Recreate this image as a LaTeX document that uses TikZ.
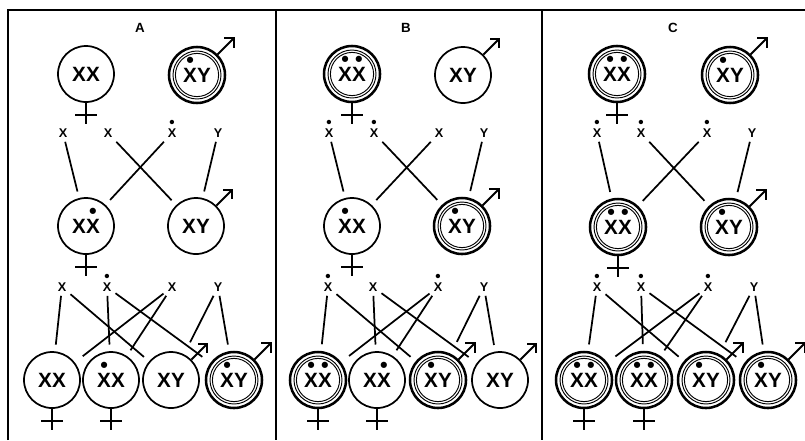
\documentclass[tikz,border=0pt]{standalone}
\usepackage{fontspec}
\setmainfont{Liberation Sans}
\usepackage{graphicx}
\usepackage{tikz}
\usetikzlibrary{arrows.meta}
% X with a dot above it
\newcommand\dX{\ooalign{X\cr\hidewidth\raisebox{0.74em}{\scalebox{1.05}{\textbullet}}\hidewidth\cr}}
\newcommand\gX{\ooalign{X\cr\hidewidth\raisebox{0.82em}{\scalebox{1.2}{\textbullet}}\hidewidth\cr}}
\tikzset{
  fly/.style={circle, draw, line width=1.3pt, minimum size=42pt, inner sep=0pt,
              text height=11.1pt, text depth=0pt, font=\fontsize{15.5}{18}\selectfont\bfseries},
  mutant/.style={fly, line width=1.9pt,
              path picture={\draw[line width=0.7pt] (path picture bounding box.center)
                            circle (18pt) circle (16.2pt);}},
  gam/.style={inner sep=3pt, text height=6.8pt, text depth=0pt,
              font=\fontsize{9.5}{11}\selectfont\bfseries},
  lbl/.style={font=\fontsize{10}{12}\selectfont\bfseries},
  link/.style={line width=1.3pt, shorten >=5pt},
  sign/.style={line width=1.5pt},
  male/.style={sign, -{Straight Barb[angle=90:7pt]}},
  frame/.style={line width=1.6pt}
}

\begin{document}
\begin{tikzpicture}[x=0.75pt, y=-0.75pt]
  \useasboundingbox (0,0) rectangle (805,440);
  \draw[frame] (8,440) -- (8,10) -- (805,10);
  \draw[frame] (276,10) -- (276,440);
  \draw[frame] (542,10) -- (542,440);

  % panel A
  \node[lbl] (A-lbl) at (140,28) {A};
  \node[fly] (A-pf) at (86,74) {XX};
  \node[mutant] (A-pm) at (197,75) {\dX Y};
  \node[gam] (A-a1) at (63,133) {X};
  \node[gam] (A-a2) at (108,133) {X};
  \node[gam] (A-a3) at (172,133) {\gX};
  \node[gam] (A-a4) at (218,133) {Y};
  \node[fly] (A-ff) at (86,226) {X\dX};
  \node[fly] (A-fm) at (196,226) {XY};
  \node[gam] (A-b1) at (62,287) {X};
  \node[gam] (A-b2) at (107,287) {\gX};
  \node[gam] (A-b3) at (172,287) {X};
  \node[gam] (A-b4) at (218,287) {Y};
  \node[fly] (A-c1) at (52,380) {XX};
  \node[fly] (A-c2) at (111,380) {\dX X};
  \node[fly] (A-c3) at (171,380) {XY};
  \node[mutant] (A-c4) at (234,380) {\dX Y};

  % panel B
  \node[lbl] (B-lbl) at (406,28) {B};
  \node[mutant] (B-pf) at (352,74) {\dX\dX};
  \node[fly] (B-pm) at (463,75) {XY};
  \node[gam] (B-a1) at (329,133) {\gX};
  \node[gam] (B-a2) at (374,133) {\gX};
  \node[gam] (B-a3) at (439,133) {X};
  \node[gam] (B-a4) at (484,133) {Y};
  \node[fly] (B-ff) at (352,226) {\dX X};
  \node[mutant] (B-fm) at (462,226) {\dX Y};
  \node[gam] (B-b1) at (328,287) {\gX};
  \node[gam] (B-b2) at (373,287) {X};
  \node[gam] (B-b3) at (438,287) {\gX};
  \node[gam] (B-b4) at (484,287) {Y};
  \node[mutant] (B-c1) at (318,380) {\dX\dX};
  \node[fly] (B-c2) at (377,380) {X\dX};
  \node[mutant] (B-c3) at (438,380) {\dX Y};
  \node[fly] (B-c4) at (500,380) {XY};

  % panel C
  \node[lbl] (C-lbl) at (673,28) {C};
  \node[mutant] (C-pf) at (617,74) {\dX\dX};
  \node[mutant] (C-pm) at (730,75) {\dX Y};
  \node[gam] (C-a1) at (597,133) {\gX};
  \node[gam] (C-a2) at (641,133) {\gX};
  \node[gam] (C-a3) at (707,133) {\gX};
  \node[gam] (C-a4) at (752,133) {Y};
  \node[mutant] (C-ff) at (618,227) {\dX\dX};
  \node[mutant] (C-fm) at (729,227) {\dX Y};
  \node[gam] (C-b1) at (597,287) {\gX};
  \node[gam] (C-b2) at (641,287) {\gX};
  \node[gam] (C-b3) at (708,287) {\gX};
  \node[gam] (C-b4) at (754,287) {Y};
  \node[mutant] (C-c1) at (584,380) {\dX\dX};
  \node[mutant] (C-c2) at (644,380) {\dX\dX};
  \node[mutant] (C-c3) at (706,380) {\dX Y};
  \node[mutant] (C-c4) at (768,380) {\dX Y};

  % crosses
  \foreach \p in {A,B,C}{
    \draw[link] (\p-a1) -- (\p-ff);
    \draw[link] (\p-a2) -- (\p-fm);
    \draw[link] (\p-a3) -- (\p-ff);
    \draw[link] (\p-a4) -- (\p-fm);
    \draw[link] (\p-b1) -- (\p-c1);
    \draw[link] (\p-b1) -- (\p-c3);
    \draw[link] (\p-b2) -- (\p-c2);
    \draw[link, shorten >=7.5pt] (\p-b2) -- (\p-c4);
    \draw[link, shorten >=7.5pt] (\p-b3) -- (\p-c1);
    \draw[link] (\p-b3) -- (\p-c2);
    \draw[link, shorten >=10pt] (\p-b4) -- (\p-c3);
    \draw[link] (\p-b4) -- (\p-c4);
  }

  % sex signs
  \foreach \n in {A-pf,A-ff,A-c1,A-c2,B-pf,B-ff,B-c1,B-c2,C-pf,C-ff,C-c1,C-c2}
    \draw[sign] (\n.south) -- ++(0,21) (\n.south) ++(-11,12) -- ++(22,0);
  \foreach \n in {A-pm,A-fm,A-c3,A-c4,B-pm,B-fm,B-c3,B-c4,C-pm,C-fm,C-c3,C-c4}
    \draw[male] (\n.45) -- ++(17,-17);
\end{tikzpicture}
\end{document}
